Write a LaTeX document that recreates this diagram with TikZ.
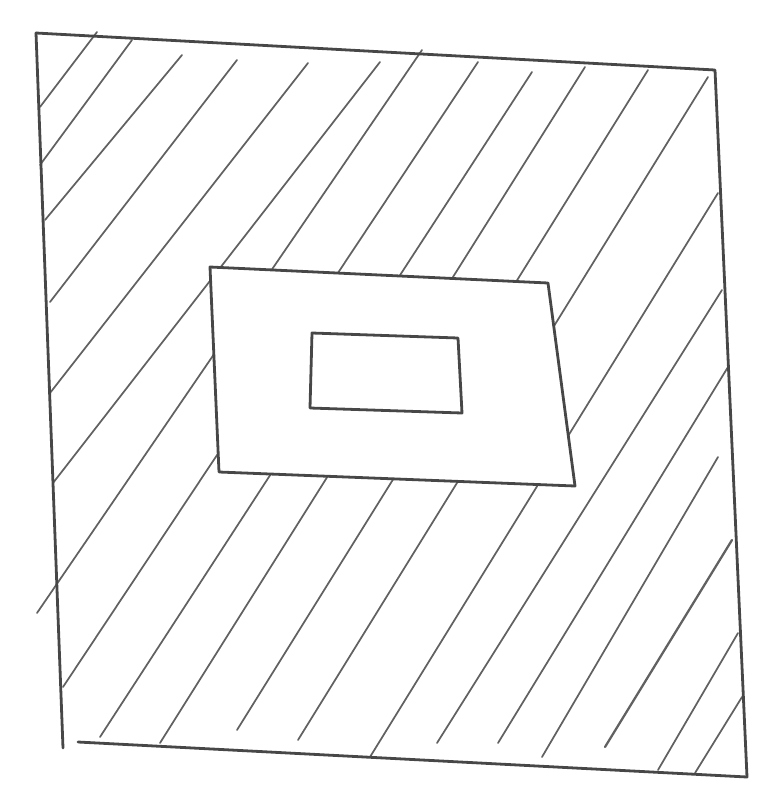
\documentclass[tikz,border=0pt]{standalone}
\begin{document}
\begin{tikzpicture}[x=0.75pt,y=-0.75pt,
  outline/.style={draw=black!72,line width=2.1pt,line join=round,line cap=round},
  hatch/.style={draw=black!62,line width=1.3pt,line cap=round}]
\useasboundingbox (0,0) rectangle (775,800);
% outer frame
\coordinate (OTL) at (36,33);
\coordinate (OTR) at (715,70);
\coordinate (OBR) at (747,777);
\coordinate (OBL) at (63,748);
\coordinate (BST) at (78,742);
% middle rectangle
\coordinate (MTL) at (210,267);
\coordinate (MTR) at (548,283);
\coordinate (MBR) at (575,486);
\coordinate (MBL) at (219,472);
% inner rectangle
\coordinate (ITL) at (312,333);
\coordinate (ITR) at (458,338);
\coordinate (IBR) at (462,413);
\coordinate (IBL) at (310,408);
% hatching, interrupted by the middle rectangle
\begin{scope}[even odd rule]
\clip (0,0) rectangle (775,800) (MTL) -- (MTR) -- (MBR) -- (MBL) -- cycle;
\draw[hatch] (40,107) -- (97,32);
\draw[hatch] (40,165) -- (132,40);
\draw[hatch] (45,220) -- (182,55);
\draw[hatch] (50,302) -- (237,60);
\draw[hatch] (50,393) -- (308,63);
\draw[hatch] (53,483) -- (380,62);
\draw[hatch] (37,613) -- (422,50);
\draw[hatch] (63,687) -- (478,62);
\draw[hatch] (100,737) -- (532,72);
\draw[hatch] (160,743) -- (585,67);
\draw[hatch] (237,730) -- (648,70);
\draw[hatch] (298,740) -- (708,77);
\draw[hatch] (370,757) -- (718,193);
\draw[hatch] (437,743) -- (722,290);
\draw[hatch] (498,743) -- (728,367);
\draw[hatch] (542,757) -- (718,457);
\draw[hatch,line width=1.7pt] (605,747) -- (732,540);
\draw[hatch] (658,770) -- (738,633);
\draw[hatch] (695,773) -- (742,697);
\end{scope}
% outlines
\draw[outline] (OTL) -- (OTR) -- (OBR) -- (BST);
\draw[outline] (OTL) -- (OBL);
\draw[outline] (MTL) -- (MTR) -- (MBR) -- (MBL) -- cycle;
\draw[outline] (ITL) -- (ITR) -- (IBR) -- (IBL) -- cycle;
\end{tikzpicture}
\end{document}
